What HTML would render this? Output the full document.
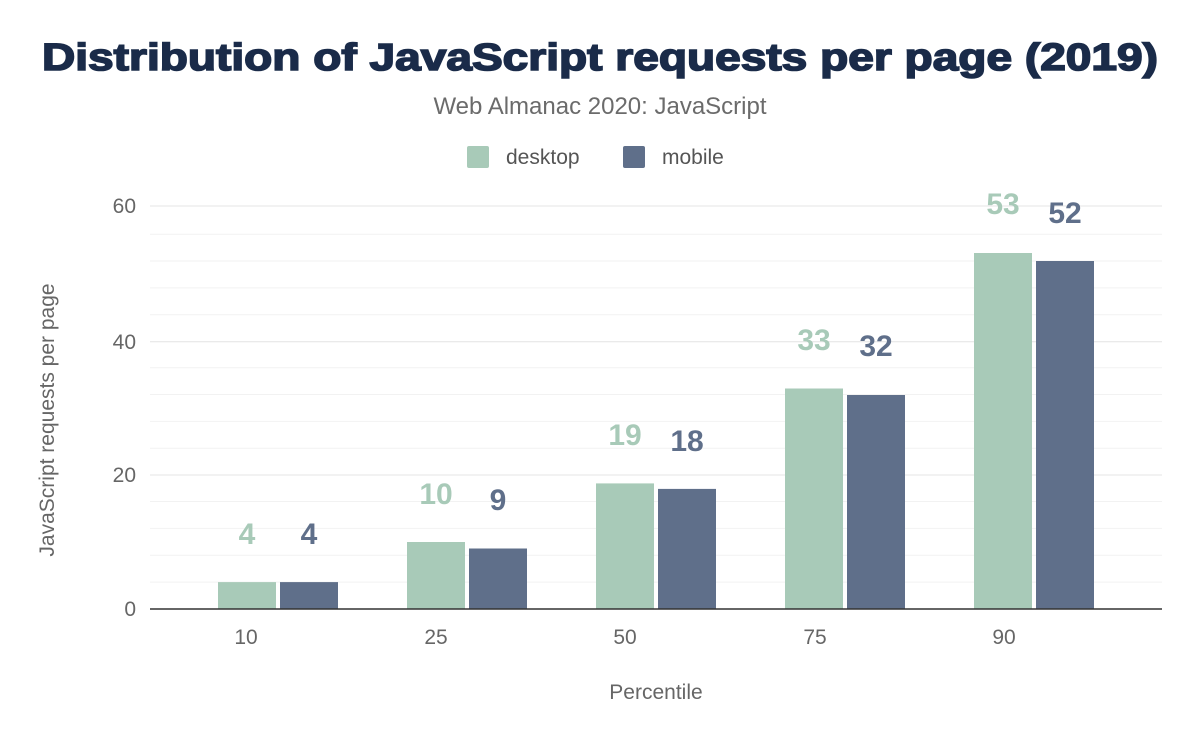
<!DOCTYPE html>
<html><head><meta charset="utf-8"><style>
html,body{margin:0;padding:0;background:#fff;}
svg{display:block;font-family:"Liberation Sans",Arial,sans-serif;}
</style></head><body>
<svg width="1200" height="742" viewBox="0 0 1200 742" xmlns="http://www.w3.org/2000/svg">
<rect width="1200" height="742" fill="#fff"/>
<text x="600" y="70" text-anchor="middle" font-size="38" font-weight="900" fill="#1a2b49" stroke="#1a2b49" stroke-width="1.6" textLength="1116" lengthAdjust="spacingAndGlyphs">Distribution of JavaScript requests per page (2019)</text>
<text x="600" y="114" text-anchor="middle" font-size="24" fill="#6b6b6b">Web Almanac 2020: JavaScript</text>
<rect x="467" y="146" width="22" height="22" rx="2" fill="#a8cab8"/>
<text x="506" y="164" font-size="21" fill="#555">desktop</text>
<rect x="623" y="146" width="22" height="22" rx="2" fill="#5f6f8a"/>
<text x="662" y="164" font-size="21" fill="#555">mobile</text>
<g stroke="#f2f2f2" stroke-width="1">
<line x1="150" x2="1162" y1="582.1" y2="582.1"/><line x1="150" x2="1162" y1="555.3" y2="555.3"/><line x1="150" x2="1162" y1="528.4" y2="528.4"/><line x1="150" x2="1162" y1="501.5" y2="501.5"/>
<line x1="150" x2="1162" y1="448.3" y2="448.3"/><line x1="150" x2="1162" y1="421.4" y2="421.4"/><line x1="150" x2="1162" y1="394.5" y2="394.5"/><line x1="150" x2="1162" y1="367.7" y2="367.7"/>
<line x1="150" x2="1162" y1="314.8" y2="314.8"/><line x1="150" x2="1162" y1="287.9" y2="287.9"/><line x1="150" x2="1162" y1="261" y2="261"/><line x1="150" x2="1162" y1="234.2" y2="234.2"/>
</g>
<g stroke="#e4e4e4" stroke-width="1">
<line x1="150" x2="1162" y1="475" y2="475"/><line x1="150" x2="1162" y1="341.7" y2="341.7"/><line x1="150" x2="1162" y1="206" y2="206"/>
</g>
<g font-size="21" fill="#666" text-anchor="end">
<text x="136" y="616">0</text><text x="136" y="482">20</text><text x="136" y="349">40</text><text x="136" y="213">60</text>
</g>
<text transform="translate(54,420) rotate(-90)" text-anchor="middle" font-size="21" fill="#666">JavaScript requests per page</text>
<g>
<rect x="218" y="582.1" width="58" height="26.9" fill="#a8cab8"/><rect x="280" y="582.1" width="58" height="26.9" fill="#5f6f8a"/>
<rect x="407" y="542" width="58" height="67" fill="#a8cab8"/><rect x="469" y="548.5" width="58" height="60.5" fill="#5f6f8a"/>
<rect x="596" y="483.4" width="58" height="125.6" fill="#a8cab8"/><rect x="658" y="488.9" width="58" height="120.1" fill="#5f6f8a"/>
<rect x="785" y="388.5" width="58" height="220.5" fill="#a8cab8"/><rect x="847" y="395" width="58" height="214" fill="#5f6f8a"/>
<rect x="974" y="253" width="58" height="356" fill="#a8cab8"/><rect x="1036" y="261" width="58" height="348" fill="#5f6f8a"/>
</g>
<g font-size="30" font-weight="bold" text-anchor="middle">
<text x="247" y="544" fill="#a8cab8">4</text><text x="309" y="544" fill="#5f6f8a">4</text>
<text x="436" y="504" fill="#a8cab8">10</text><text x="498" y="510" fill="#5f6f8a">9</text>
<text x="625" y="445" fill="#a8cab8">19</text><text x="687" y="451" fill="#5f6f8a">18</text>
<text x="814" y="350" fill="#a8cab8">33</text><text x="876" y="356" fill="#5f6f8a">32</text>
<text x="1003" y="214" fill="#a8cab8">53</text><text x="1065" y="223" fill="#5f6f8a">52</text>
</g>
<line x1="150" x2="1162" y1="609" y2="609" stroke="#333" stroke-width="1.5"/>
<g font-size="21" fill="#666" text-anchor="middle">
<text x="246" y="644">10</text><text x="436" y="644">25</text><text x="625" y="644">50</text><text x="815" y="644">75</text><text x="1004" y="644">90</text>
</g>
<text x="656" y="699" text-anchor="middle" font-size="21" fill="#666">Percentile</text>
</svg>
</body></html>
